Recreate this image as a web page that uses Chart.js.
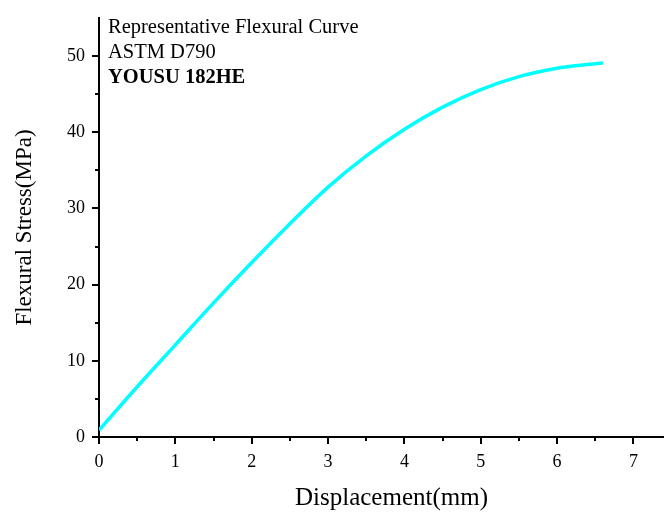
<!DOCTYPE html>
<html>
<head>
<meta charset="utf-8">
<script src="https://cdn.jsdelivr.net/npm/chart.js@4"></script>
<style>
html,body{margin:0;padding:0;background:#fff;}
#wrap{width:664px;height:514px;}
</style>
</head>
<body>
<div id="wrap"><canvas id="c" width="664" height="514"></canvas></div>
<script>
const displacement = [0, 0.5, 1, 1.5, 2, 2.5, 3, 3.5, 4, 4.5, 5, 5.5, 6, 6.3, 6.6];
const stress = [0.9, 6.6, 12.1, 17.6, 22.9, 28.0, 32.8, 36.9, 40.4, 43.3, 45.6, 47.3, 48.4, 48.8, 49.1];
const annotationLines = ["Representative Flexural Curve", "ASTM D790", "YOUSU 182HE"];
const xTitle = "Displacement(mm)";
const yTitle = "Flexural Stress(MPa)";

const serif = "'Liberation Serif', 'Times New Roman', serif";

const extras = {
  id: 'extras',
  afterDraw(chart) {
    const ctx = chart.ctx;
    const xs = chart.scales.x, ys = chart.scales.y;
    ctx.save();
    ctx.strokeStyle = '#000';
    ctx.lineWidth = 2;
    for (let v = 0.5; v < 7.4; v += 1) {
      const px = Math.round(xs.getPixelForValue(v));
      ctx.beginPath();
      ctx.moveTo(px, xs.top);
      ctx.lineTo(px, xs.top + 4);
      ctx.stroke();
    }
    for (let v = 5; v < 55; v += 10) {
      const py = Math.round(ys.getPixelForValue(v));
      ctx.beginPath();
      ctx.moveTo(ys.right, py);
      ctx.lineTo(ys.right - 4, py);
      ctx.stroke();
    }
    ctx.fillStyle = '#000';
    // x axis title
    ctx.font = '25px ' + serif;
    ctx.textAlign = 'center';
    ctx.textBaseline = 'middle';
    ctx.fillText(xTitle, chart.chartArea.left + (chart.chartArea.right - chart.chartArea.left) / 2 + 10, 498);
    // annotation text
    ctx.textBaseline = 'alphabetic';
    ctx.textAlign = 'left';
    const x0 = chart.chartArea.left + 9;
    const baselines = [33, 58, 83];
    annotationLines.forEach((t, i) => {
      ctx.font = (i === 2 ? 'bold ' : '') + '20.5px ' + serif;
      ctx.fillText(t, x0, baselines[i]);
    });
    ctx.restore();
  }
};

new Chart(document.getElementById('c'), {
  type: 'line',
  data: {
    datasets: [{
      data: displacement.map((x, i) => ({x: x, y: stress[i]})),
      borderColor: '#00FFFF',
      borderWidth: 3.5,
      pointRadius: 0,
      cubicInterpolationMode: 'monotone',
      fill: false
    }]
  },
  options: {
    responsive: false,
    animation: false,
    layout: {padding: {top: 18, right: 0, left: 0, bottom: 0}},
    plugins: {legend: {display: false}, tooltip: {enabled: false}},
    scales: {
      x: {
        type: 'linear',
        min: 0, max: 7.4,
        afterFit(scale) { scale.height = 77; },
        border: {display: true, color: '#000', width: 2},
        grid: {display: true, drawOnChartArea: false, drawTicks: true, tickLength: 7, color: '#000', lineWidth: 2},
        ticks: {stepSize: 1, includeBounds: false, color: '#000', font: {family: serif, size: 18}, padding: 7, maxRotation: 0},
        title: {display: false, text: xTitle}
      },
      y: {
        type: 'linear',
        min: 0, max: 55,
        afterFit(scale) { scale.width = 99; },
        border: {display: true, color: '#000', width: 2},
        grid: {display: true, drawOnChartArea: false, drawTicks: true, tickLength: 7, color: '#000', lineWidth: 2},
        ticks: {stepSize: 10, includeBounds: false, color: '#000', font: {family: serif, size: 18}, padding: 7},
        title: {display: true, text: yTitle, color: '#000', font: {family: serif, size: 23}, padding: {top: 11, bottom: 10}}
      }
    }
  },
  plugins: [extras]
});
</script>
</body>
</html>
